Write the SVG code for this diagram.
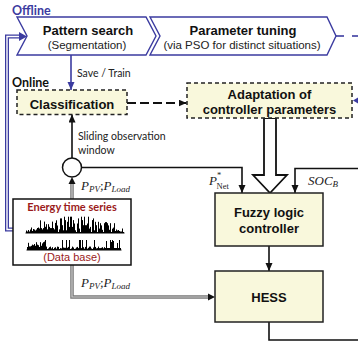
<svg xmlns="http://www.w3.org/2000/svg" width="358" height="342" viewBox="0 0 358 342">
<style>
.t{font-family:"Liberation Sans",Arial,sans-serif;font-weight:bold;font-size:13px;fill:#111;text-anchor:middle}
.s{font-family:"Liberation Sans",Arial,sans-serif;font-size:11.5px;fill:#222;text-anchor:middle}
.c{font-family:Lato,"Open Sans",sans-serif;font-size:10.5px;fill:#222}
.m{font-family:"Liberation Serif","Times New Roman",serif;font-style:italic;font-size:13px;fill:#222}
.mu{font-family:"Liberation Serif","Times New Roman",serif;font-size:8.5px;fill:#222}
.box{fill:#f9f8dc;stroke:#222;stroke-width:1.5}
.dbox{fill:#f9f8dc;stroke:#222;stroke-width:1.5;stroke-dasharray:4 3}
.chev{fill:#fff;stroke:#3b3ba0;stroke-width:1.4}
.ln{fill:none;stroke:#111;stroke-width:1.6}
.bl{fill:none;stroke:#3b3ba0;stroke-width:1.6}
.wv{fill:none;stroke:#000;stroke-width:1}
</style>
<defs>
<marker id="ah" markerUnits="userSpaceOnUse" markerWidth="9" markerHeight="8" refX="8" refY="3.5" orient="auto"><path d="M0,0 L8,3.5 L0,7 z" fill="#111"/></marker>
<marker id="ahb" markerUnits="userSpaceOnUse" markerWidth="9" markerHeight="8" refX="8" refY="3.5" orient="auto"><path d="M0,0 L8,3.5 L0,7 z" fill="#3b3ba0"/></marker>
</defs>

<text x="12" y="15" style="font-family:Lato,'Open Sans',sans-serif;font-weight:bold;font-size:12.5px;fill:#3b3ba0">Offline</text>
<text x="12" y="86.5" style="font-family:Lato,'Open Sans',sans-serif;font-weight:bold;font-size:12.5px;fill:#111">Online</text>

<g id="connectors">
  <path d="M13,229.5 H7 V36.5 H21" fill="none" stroke="#3b3ba0" stroke-width="4"/>
  <path d="M13,229.5 H7 V36.5 H21" fill="none" stroke="#fff" stroke-width="1.4"/>
  <path d="M19,32 L27,36.5 L19,41 z" fill="#3b3ba0"/>
  <path d="M336,36 H344" class="bl"/>
  <path d="M352,36 H358" class="bl"/>
  <path d="M353,100.5 L359,97 L359,104 z" fill="#3b3ba0"/>
  <path d="M71,55 V90" class="bl" marker-end="url(#ahb)"/>
  <path d="M127,103 H186.5" fill="none" stroke="#111" stroke-width="2" stroke-dasharray="9 4" marker-end="url(#ah)"/>
  <path d="M72,158 V114.5" class="ln" marker-end="url(#ah)"/>
  <path d="M81.5,167.5 H242 V193" class="ln" marker-end="url(#ah)"/>
  <path d="M358,168.5 H295 V193" class="ln" marker-end="url(#ah)"/>
  <path d="M264,118 H276 V175 H287 L270,193 L253,175 H264 z" fill="#fff" stroke="#111" stroke-width="1.8" stroke-linejoin="miter"/>
  <path d="M269,246 V271" class="ln" marker-end="url(#ah)"/>
  <path d="M269,322 V340 H358" class="ln"/>
  <path d="M72,199 V183" fill="none" stroke="#777" stroke-width="3.5"/>
  <path d="M72,199 V183" fill="none" stroke="#ccc" stroke-width="1.2"/>
  <path d="M68.5,184 L72,177 L75.5,184 z" fill="#111"/>
  <path d="M72,265 V297 H209" fill="none" stroke="#777" stroke-width="3.5"/>
  <path d="M72,265 V297 H209" fill="none" stroke="#ccc" stroke-width="1.2"/>
  <path d="M208,293.5 L215,297 L208,300.5 z" fill="#111"/>
</g>

<g id="pattern-search">
  <path d="M17,17 H146 L156,36 L146,55 H17 L27,36 z" class="chev"/>
  <text x="88" y="35" class="t">Pattern search</text>
  <text x="87" y="49" class="s">(Segmentation)</text>
</g>
<g id="parameter-tuning">
  <path d="M150,17 H327 L336,36 L327,55 H150 L160,36 z" class="chev"/>
  <text x="243" y="35" class="t">Parameter tuning</text>
  <text x="242" y="49" class="s">(via PSO for distinct situations)</text>
</g>
<text x="77" y="77" class="c">Save / Train</text>

<g id="classification">
  <rect x="17" y="90" width="110" height="24.5" class="dbox"/>
  <text x="72" y="109" class="t">Classification</text>
</g>
<g id="adaptation">
  <rect x="187" y="83" width="165" height="35" class="dbox"/>
  <text x="269.5" y="98.5" class="t">Adaptation of</text>
  <text x="269.5" y="114" class="t">controller parameters</text>
</g>

<text x="78" y="140" class="c">Sliding observation</text>
<text x="78" y="154" class="c">window</text>

<g id="sum-node">
  <circle cx="72" cy="167.5" r="9.5" fill="#fff" stroke="#111" stroke-width="1.5"/>
</g>

<text x="81" y="189.5" class="m">P<tspan font-size="9" dy="2">PV</tspan><tspan dy="-2" font-style="normal">;</tspan>P<tspan font-size="9" dy="2">Load</tspan></text>
<text x="81" y="287" class="m">P<tspan font-size="9" dy="2">PV</tspan><tspan dy="-2" font-style="normal">;</tspan>P<tspan font-size="9" dy="2">Load</tspan></text>
<text x="209" y="185" class="m">P</text>
<text x="217" y="177.5" class="mu">*</text>
<text x="216.5" y="188.5" class="mu">Net</text>
<text x="308" y="185" class="m">SOC<tspan font-size="9" dy="2">B</tspan></text>

<g id="fuzzy">
  <rect x="215" y="193" width="108" height="53" class="box"/>
  <text x="269" y="216.5" class="t">Fuzzy logic</text>
  <text x="269" y="233" class="t">controller</text>
</g>
<g id="hess">
  <rect x="215" y="271" width="108" height="51" class="box"/>
  <text x="269" y="301.5" class="t">HESS</text>
</g>

<g id="energy-time-series">
  <rect x="13" y="199" width="118" height="66" fill="#fff" stroke="#111" stroke-width="1.5"/>
  <text x="72" y="211" text-anchor="middle" style="font-family:Lato,'Open Sans',sans-serif;font-weight:bold;font-size:11px;fill:#9b1b1b">Energy time series</text>
  <g transform="translate(0.5,0)">
  <path class="wv" d="M25,233H124M26,233V230.5M27,233V231.5M28,233V230M29,233V231.5M30,233V229.5M31,233V227.5M32,233V231M33,233V229M34,233V229.5M35,233V230.5M36,233V229.5M37,233V228M38,233V227.5M39,233V228.5M40,233V220.3M41,233V228.1M42,233V229.4M43,233V228.1M44,233V221.6M45,233V226.8M46,233V224.2M47,233V229.4M48,233V224.2M49,233V226.8M50,233V228.1M51,233V228.1M52,233V221.6M53,233V228.1M54,233V229.4M55,233V222.9M56,233V220.3M57,233V225.5M58,233V232M59,233V229.4M60,233V218.4M61,233V218.4M62,233V225.2M63,233V230.3M64,233V216.7M65,233V220.1M66,233V230.3M67,233V221.8M68,233V216.7M69,233V226.9M70,233V216.7M71,233V216.7M72,233V226.9M73,233V220.1M74,233V223.5M75,233V230.3M76,233V232M77,233V223.5M78,233V218.4M79,233V228.6M80,233V232M81,233V216.7M82,233V220.1M83,233V225.2M84,233V216.7M85,233V225.2M86,233V225.2M87,233V223.5M88,233V216.7M89,233V228.6M90,233V226.9M91,233V232M92,233V220.1M93,233V218.4M94,233V230.3M95,233V221.8M96,233V225.2M97,233V232M98,233V221.8M99,233V228.6M100,233V223.2M101,233V225.4M102,233V229.8M103,233V232M104,233V223.2M105,233V222.1M106,233V222.1M107,233V223.2M108,233V225.4M109,233V229.8M110,233V223.2M111,233V232M112,233V228.7M113,233V227.6M114,233V223.2M115,233V231M116,233V229.5M117,233V230.5M118,233V230M119,233V231M120,233V231.5M121,233V231.5M122,233V228.5M123,233V232"/>
  <path class="wv" d="M26,250H121M27,250V247M28,250V242.8M29,250V246.4M30,250V246.4M31,250V245.8M32,250V244.6M33,250V245.2M34,250V244M35,250V245.8M36,250V242.2M37,250V244.6M38,250V245.2M39,250V247M40,250V242.2M41,250V245.8M42,250V243.4M43,250V242.2M44,250V241.6M45,250V240M46,250V246.6M47,250V249M48,250V248.4M49,250V247.2M50,250V246.6M51,250V248.4M52,250V247.2M53,250V249M54,250V247.8M55,250V247.2M56,250V248.7M57,250V246.6M58,250V246.9M59,250V249M60,250V248.1M61,250V248.4M62,250V240M63,250V247.5M64,250V247.8M65,250V247.8M66,250V240M67,250V247.8M68,250V246.9M69,250V240M70,250V249M71,250V248.4M72,250V246.6M73,250V247.5M74,250V249M75,250V248.7M76,250V247.5M77,250V246.9M78,250V248.1M79,250V240M80,250V240M81,250V248.1M82,250V240M83,250V247.2M84,250V248.7M85,250V246.9M86,250V240M87,250V248.7M88,250V247.8M89,250V246.6M90,250V246.6M91,250V248.4M92,250V249M93,250V247.5M94,250V240M95,250V246.9M96,250V248.4M97,250V248.1M98,250V246.6M99,250V248.1M100,250V248.1M101,250V247.8M102,250V247.2M103,250V248.4M104,250V247.2M105,250V248M106,250V241M107,250V248M108,250V248M109,250V248M110,250V240M111,250V242M112,250V240M113,250V241M114,250V248M115,250V248M116,250V248M117,250V243M118,250V248M119,250V240M120,250V248"/>
  </g>
  <text x="72" y="261" text-anchor="middle" style="font-family:'Liberation Sans',Arial,sans-serif;font-size:11px;fill:#9b1b1b">(Data base)</text>
</g>
</svg>
